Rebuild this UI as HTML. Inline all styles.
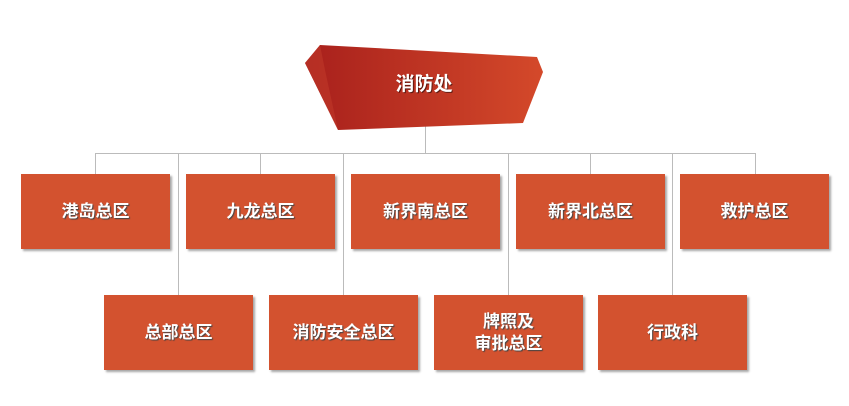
<!DOCTYPE html>
<html><head><meta charset="utf-8"><style>
body{margin:0;width:849px;height:406px;background:#fff;position:relative;overflow:hidden;font-family:"Liberation Sans","Noto Sans CJK SC",sans-serif}
.b{position:absolute;width:149px;height:75px;background:#d3522f;box-shadow:2px 2px 2px rgba(0,0,0,.35);color:#fff;font-weight:bold;font-size:17px;display:flex;align-items:center;justify-content:center;text-align:center;line-height:22px;text-shadow:1px 1px 1px #444}
.l{position:absolute;background:#bbb}
</style></head><body>
<div class="l" style="left:95px;top:153px;width:661px;height:1px"></div>
<div class="l" style="left:425px;top:125px;width:1px;height:28px"></div>
<div class="l" style="left:95px;top:153px;width:1px;height:21px"></div>
<div class="l" style="left:260px;top:153px;width:1px;height:21px"></div>
<div class="l" style="left:590px;top:153px;width:1px;height:21px"></div>
<div class="l" style="left:755px;top:153px;width:1px;height:21px"></div>
<div class="l" style="left:178px;top:153px;width:1px;height:142px"></div>
<div class="l" style="left:343px;top:153px;width:1px;height:142px"></div>
<div class="l" style="left:508px;top:153px;width:1px;height:142px"></div>
<div class="l" style="left:672px;top:153px;width:1px;height:142px"></div>
<svg style="position:absolute;left:0;top:0" width="849" height="406">
<defs><linearGradient id="g" x1="0" x2="1"><stop offset="0" stop-color="#a8201c"/><stop offset="1" stop-color="#d4492a"/></linearGradient></defs>
<polygon points="320,45 537,57 543,72 523,123 338,130 305,63" fill="url(#g)"/>
<polygon points="320,45 305,63 338,130 325,70" fill="#c0392a" opacity=".6"/>
<text x="425" y="91" text-anchor="middle" font-size="19" font-weight="bold" fill="#000" opacity=".5" font-family="Liberation Sans,Noto Sans CJK SC,sans-serif">消防处</text>
<text x="424" y="90" text-anchor="middle" font-size="19" font-weight="bold" fill="#fff" font-family="Liberation Sans,Noto Sans CJK SC,sans-serif">消防处</text>
</svg>
<div class="b" style="left:21px;top:174px">港岛总区</div>
<div class="b" style="left:186px;top:174px">九龙总区</div>
<div class="b" style="left:351px;top:174px">新界南总区</div>
<div class="b" style="left:516px;top:174px">新界北总区</div>
<div class="b" style="left:680px;top:174px">救护总区</div>
<div class="b" style="left:104px;top:295px">总部总区</div>
<div class="b" style="left:269px;top:295px">消防安全总区</div>
<div class="b" style="left:434px;top:295px">牌照及<br>审批总区</div>
<div class="b" style="left:598px;top:295px">行政科</div>
</body></html>
